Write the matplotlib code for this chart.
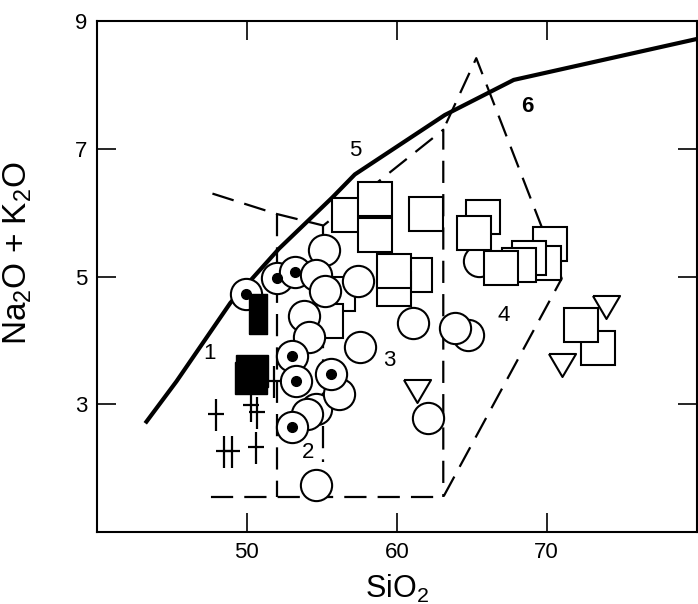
import matplotlib
matplotlib.use('Agg')
import matplotlib.pyplot as plt
from matplotlib.path import Path

plt.rcParams['font.family'] = ['Liberation Sans', 'DejaVu Sans']
plt.rcParams['mathtext.default'] = 'regular'

# alkaline / subalkaline dividing curve
curve_x = [43.3, 45.3, 48.9, 52.15, 55.7, 57.2, 63.2, 67.8, 80.0]
curve_y = [2.73, 3.36, 4.59, 5.44, 6.24, 6.60, 7.53, 8.08, 8.72]

# dashed field boundaries
upper_x = [47.7, 52.0, 55.1, 63.1, 63.1]
upper_y = [6.30, 5.98, 5.80, 7.30, 1.55]
narrow_x = [55.1, 55.1]
narrow_y = [5.80, 2.10]
left_x = [52.0, 52.0]
left_y = [5.98, 1.55]
base_x = [47.6, 63.1, 71.0, 65.3, 63.1]
base_y = [1.55, 1.55, 4.97, 8.42, 7.30]

# samples
circ_back_x = [65.45, 64.75]
circ_back_y = [5.24, 4.09]

sq_back_x = [56.84, 61.2, 59.8, 65.74, 70.22, 73.43, 56.1, 55.3]
sq_back_y = [5.97, 5.03, 4.81, 5.93, 5.51, 3.88, 4.73, 4.30]
sq_x = [58.56, 58.56, 59.8, 61.96, 65.16, 69.85, 68.81, 68.13, 66.92, 72.3]
sq_y = [6.22, 5.65, 5.09, 5.98, 5.69, 5.21, 5.29, 5.18, 5.13, 4.24]

dot_back_x = [52.04, 53.2, 54.58]
dot_back_y = [4.98, 5.08, 2.92]

circ_x = [55.13, 54.58, 55.24, 57.41, 53.8, 54.14, 57.52, 56.17, 54.0,
          54.58, 61.1, 63.87, 62.07]
circ_y = [5.42, 5.02, 4.78, 4.93, 4.39, 4.06, 3.90, 3.16, 2.85,
          1.73, 4.27, 4.19, 2.78]

dot_x = [49.93, 52.99, 55.64, 53.25, 53.03]
dot_y = [4.73, 3.75, 3.48, 3.37, 2.65]

black_sq_x = [50.25, 50.35]
black_sq_y = [3.41, 3.52]
black_bar_x = [50.76]
black_bar_y = [4.41]

cross_x = [47.94, 50.25, 50.65, 51.8, 48.5, 49.0, 50.6]
cross_y = [2.84, 2.98, 2.86, 3.35, 2.25, 2.25, 2.31]

tri_x = [73.96, 71.0, 61.38]
tri_y = [4.52, 3.62, 3.21]

field_labels = ['1', '2', '3', '4', '5', '6']
label_x = [47.5, 54.07, 59.5, 67.1, 57.2, 68.7]
label_y = [3.80, 2.24, 3.69, 4.39, 6.98, 7.66]

cross_marker = Path([(0, -1), (0, 1), (-0.47, 0.05), (0.47, 0.05)],
                    [Path.MOVETO, Path.LINETO, Path.MOVETO, Path.LINETO])
bar_marker = [(-0.45, -1), (0.45, -1), (0.45, 1), (-0.45, 1), (-0.45, -1)]
tri_marker = [(-1, 0.85), (1, 0.85), (0, -0.85), (-1, 0.85)]

fig = plt.figure(figsize=(6.98, 6.04), dpi=100)
ax = fig.add_axes([0.139, 0.119, 0.859, 0.846])

dash = dict(color='black', lw=1.6, dashes=(10, 5), zorder=2)
ax.plot(upper_x, upper_y, **dash)
ax.plot(narrow_x, narrow_y, **dash)
ax.plot(left_x, left_y, **dash)
ax.plot(base_x, base_y, **dash)
ax.plot(curve_x, curve_y, color='black', lw=3, zorder=2,
        solid_joinstyle='round')

openm = dict(ls='none', mfc='white', mec='black', mew=1.5, zorder=3)
ax.plot(circ_back_x, circ_back_y, 'o', ms=22.5, **openm)
ax.plot(sq_back_x, sq_back_y, 's', ms=24.5, **openm)
ax.plot(sq_x, sq_y, 's', ms=24.5, **openm)
ax.plot(dot_back_x, dot_back_y, 'o', ms=22.5, **openm)
ax.plot(dot_back_x, dot_back_y, 'o', ms=7, color='black', ls='none', zorder=3)
ax.plot(circ_x, circ_y, 'o', ms=22.5, **openm)
ax.plot(dot_x, dot_y, 'o', ms=22.5, **openm)
ax.plot(dot_x, dot_y, 'o', ms=7, color='black', ls='none', zorder=3)

ax.plot(black_sq_x, black_sq_y, 's', ms=23, color='black', ls='none', zorder=3)
ax.plot(black_bar_x, black_bar_y, marker=bar_marker, ms=29, color='black',
        ls='none', zorder=3)
ax.plot(cross_x, cross_y, marker=cross_marker, ms=23, mec='black', mew=1.6,
        ls='none', zorder=3)
ax.plot(tri_x, tri_y, marker=tri_marker, ms=19.5, **openm)

for t, x, y in zip(field_labels, label_x, label_y):
    ax.text(x, y, t, fontsize=16, ha='center', va='center',
            fontweight='bold' if t == '6' else 'normal', zorder=4)

ax.set_xlim(40, 80)
ax.set_ylim(1, 9)
ax.set_xticks([50, 60, 70])
ax.set_yticks([3, 5, 7, 9])
ax.tick_params(direction='in', length=14, width=1.2, top=True, right=True,
               labelsize=16, pad=7)
for s in ax.spines.values():
    s.set_linewidth(1.5)

ax.set_xlabel('SiO$_2$', fontsize=22)
ax.xaxis.set_label_coords(0.5, -0.08)
ax.set_ylabel('Na$_2$O + K$_2$O', fontsize=24)
ax.yaxis.set_label_coords(-0.105, 0.545)

fig.savefig('out.png', dpi=100)
